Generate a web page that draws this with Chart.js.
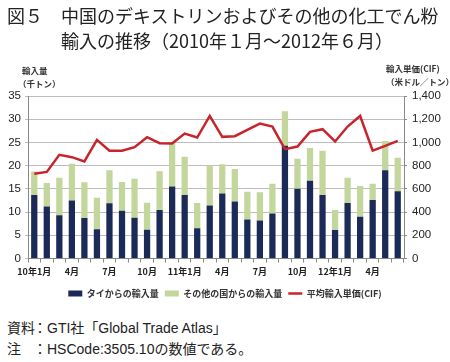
<!DOCTYPE html>
<html>
<head>
<meta charset="utf-8">
<script src="https://cdn.jsdelivr.net/npm/chart.js@4.4.1/dist/chart.umd.min.js"></script>
<style>
    html, body { margin: 0; padding: 0; background: #fff; }
    #wrap { position: relative; width: 450px; height: 362px; overflow: hidden;
        font-family: "Noto Sans CJK JP", sans-serif; color: #222; }
    #chart { position: absolute; left: 0; top: 0; }
    .t { position: absolute; white-space: nowrap; }
    .title { font-size: 18px; line-height: 22px; }
    .axt { font-size: 8.5px; font-weight: bold; line-height: 11px; color: #333; }
    .note { font-family: "Liberation Sans", "Noto Sans CJK JP", sans-serif;
        font-size: 14px; line-height: 18px; color: #222; }
</style>
</head>
<body>
<div id="wrap">
    <canvas id="chart" width="450" height="308"></canvas>
    <div class="t title" style="left:7px;top:4px;">図５</div>
    <div class="t title" style="left:61px;top:4px;">中国のデキストリンおよびその他の化工でん粉</div>
    <div class="t title" style="left:61px;top:29px;">輸入の推移（2010年１月～2012年６月）</div>
    <div class="t axt" style="left:22px;top:65px;">輸入量</div>
    <div class="t axt" style="left:18px;top:78px;">（千トン）</div>
    <div class="t axt" style="left:386px;top:63px;">輸入単価(CIF)</div>
    <div class="t axt" style="left:386px;top:76px;">（米ドル／トン）</div>
    <div class="t note" style="left:7px;top:319px;">資料</div>
    <div class="t note" style="left:33px;top:319px;">：GTI社「Global Trade Atlas」</div>
    <div class="t note" style="left:7px;top:340px;">注</div>
    <div class="t note" style="left:33px;top:340px;">：HSCode:3505.10の数値である。</div>
</div>
<script>
(function () {
    'use strict';

    // 2010年1月 ～ 2012年6月
    var months = [
        '10年1月', '2', '3', '4月', '5', '6', '7月', '8', '9', '10月', '11', '12',
        '11年1月', '2', '3', '4月', '5', '6', '7月', '8', '9', '10月', '11', '12',
        '12年1月', '2', '3', '4月', '5', '6'
    ];
    var shownLabels = ['10年1月', '4月', '7月', '10月', '11年1月', '12年1月'];

    // 千トン
    var thai = [
        13.7, 11.2, 9.3, 12.5, 8.7, 6.3, 11.9, 10.3, 8.8, 6.2, 10.45, 15.5,
        13.7, 6.5, 11.4, 14.0, 12.3, 8.4, 8.2, 9.7, 24.3, 15.0, 16.75, 13.7,
        6.15, 11.95, 9.0, 12.6, 19.0, 14.5
    ];
    var others = [
        5.05, 5.05, 8.1, 7.9, 7.7, 6.8, 7.1, 6.2, 8.4, 5.8, 8.35, 9.3,
        8.2, 5.45, 8.7, 6.3, 7.0, 6.0, 6.05, 6.4, 7.4, 6.5, 7.05, 9.5,
        4.3, 5.45, 6.6, 3.5, 6.3, 7.2
    ];
    // 米ドル／トン
    var price = [
        730, 746, 893, 873, 836, 1022, 928, 928, 959, 1045, 993, 990,
        1076, 1042, 1228, 1048, 1054, 1108, 1162, 1137, 942, 965, 1091, 1114,
        1008, 1137, 1228, 930, 970, 1013
    ];

    var navy = '#1c2a58';
    var green = '#c3d69b';
    var red = '#c8242c';
    var gridColor = '#bdbdbd';
    var textColor = '#222';
    var numFont = '"Liberation Sans", Arial, sans-serif';
    var jpFont = '"Noto Sans CJK JP", sans-serif';

    new Chart(document.getElementById('chart'), {
        type: 'bar',
        data: {
            labels: months,
            datasets: [
                {
                    label: 'タイからの輸入量',
                    data: thai,
                    yAxisID: 'y',
                    backgroundColor: navy,
                    stack: 'q',
                    categoryPercentage: 1,
                    barPercentage: 0.5,
                    pointStyle: 'rect',
                    order: 1,
                },
                {
                    label: 'その他の国からの輸入量',
                    data: others,
                    yAxisID: 'y',
                    backgroundColor: green,
                    stack: 'q',
                    categoryPercentage: 1,
                    barPercentage: 0.5,
                    pointStyle: 'rect',
                    order: 1,
                },
                {
                    label: '平均輸入単価(CIF)',
                    type: 'line',
                    data: price,
                    yAxisID: 'y1',
                    borderColor: red,
                    backgroundColor: red,
                    borderWidth: 2.5,
                    pointRadius: 0,
                    tension: 0,
                    pointStyle: 'line',
                    order: 0,
                },
            ],
        },
        options: {
            responsive: false,
            animation: false,
            layout: { padding: { top: 96, left: 0, right: 0, bottom: 0 } },
            plugins: {
                tooltip: { enabled: false },
                legend: {
                    position: 'bottom',
                    labels: {
                        usePointStyle: true,
                        pointStyleWidth: 14,
                        boxHeight: 6,
                        padding: 6,
                        color: '#333',
                        font: { family: jpFont, size: 9, weight: 'bold' },
                        sort: function (a, b) {
                            return a.datasetIndex - b.datasetIndex;
                        },
                    },
                },
            },
            scales: {
                x: {
                    stacked: true,
                    offset: true,
                    grid: {
                        offset: true,
                        drawOnChartArea: false,
                        color: '#888',
                        tickLength: 4,
                    },
                    border: { color: '#888' },
                    ticks: {
                        autoSkip: false,
                        maxRotation: 0,
                        color: textColor,
                        padding: 4,
                        font: { family: jpFont, size: 9, weight: 'bold' },
                        callback: function (v, i) {
                            var l = months[i];
                            return shownLabels.indexOf(l) >= 0 ? l : '';
                        },
                    },
                    afterFit: function (scale) {
                        scale.height = 24.5;
                    },
                },
                y: {
                    stacked: true,
                    min: 0,
                    max: 35,
                    ticks: {
                        stepSize: 5,
                        color: textColor,
                        padding: 4,
                        font: { family: numFont, size: 11.5 },
                    },
                    grid: { color: gridColor, tickLength: 3 },
                    border: { color: '#888' },
                    afterFit: function (scale) {
                        scale.width = 28;
                    },
                },
                y1: {
                    position: 'right',
                    min: 0,
                    max: 1400,
                    ticks: {
                        stepSize: 200,
                        color: textColor,
                        padding: 5,
                        font: { family: numFont, size: 11.5 },
                        callback: function (v) {
                            return v.toLocaleString('en-US');
                        },
                    },
                    grid: { drawOnChartArea: false, color: '#888', tickLength: 3 },
                    border: { color: '#888' },
                    afterFit: function (scale) {
                        scale.width = 46;
                    },
                },
            },
        },
    });
})();
</script>
</body>
</html>
